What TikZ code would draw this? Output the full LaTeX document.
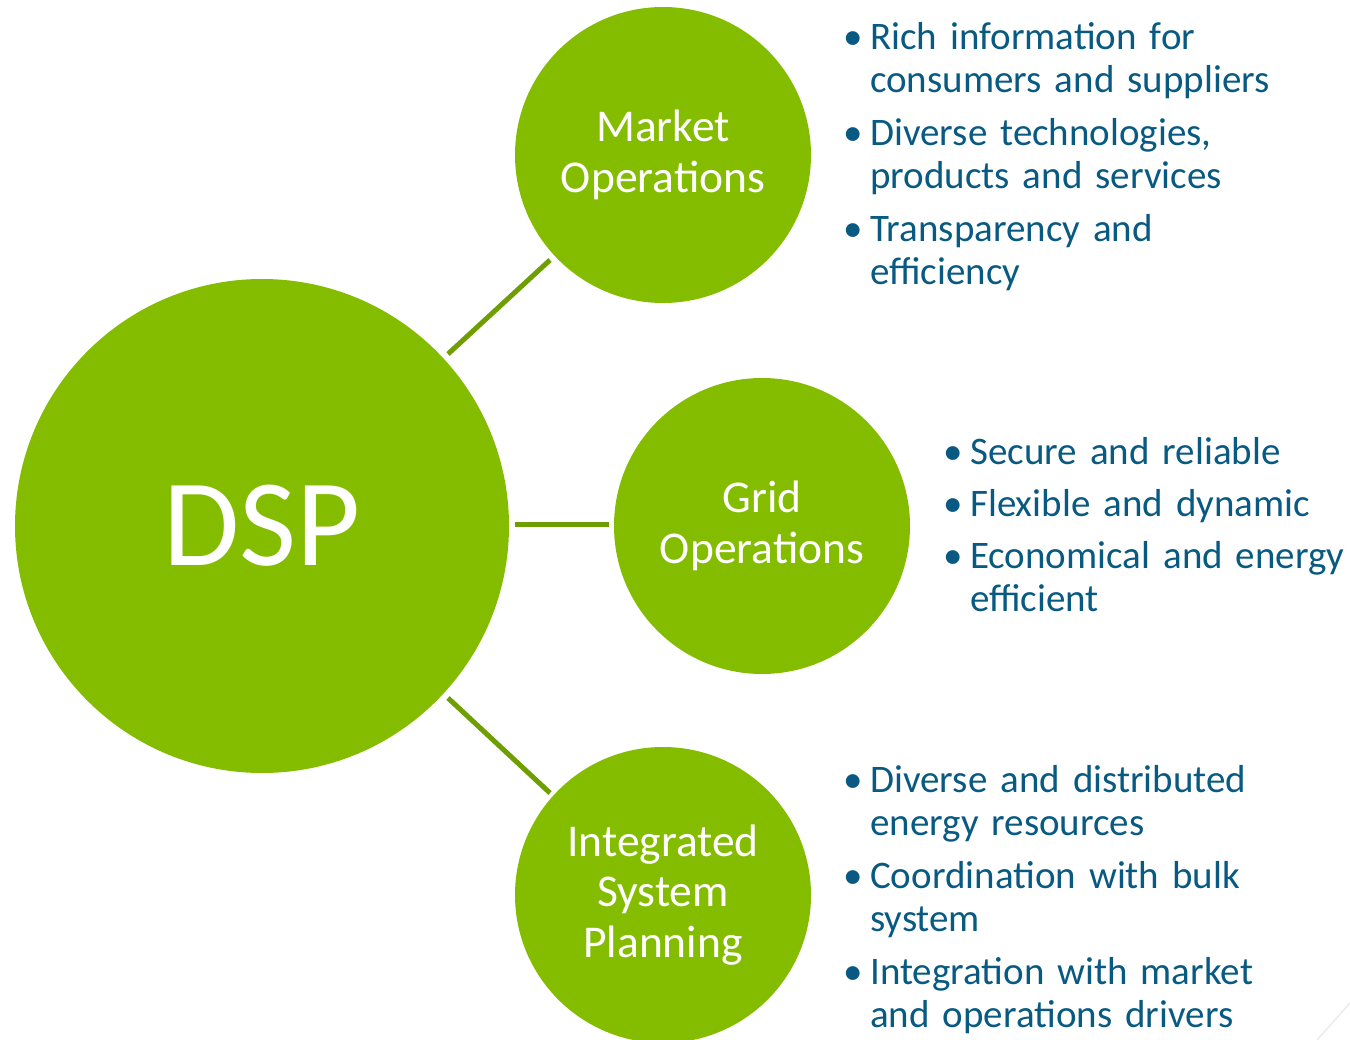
\documentclass[tikz,border=0pt]{standalone}
\usepackage{fontspec}
\setmainfont{Carlito}
\definecolor{dspgreen}{HTML}{84BD00}
\definecolor{linkgreen}{HTML}{6E9E00}
\definecolor{txtblue}{HTML}{085A82}
\newcommand{\itemfont}{\fontsize{39}{43}\selectfont\spaceskip=13pt plus 2pt\relax}
\begin{document}
\begin{tikzpicture}[x=1pt,y=-1pt,
  bigcircle/.style={circle,fill=dspgreen,draw=none,inner sep=0pt,minimum size=494pt,text=white,font=\fontsize{124}{130}\selectfont},
  subcircle/.style={circle,fill=dspgreen,draw=none,inner sep=0pt,minimum size=296pt,text=white,align=center,font=\fontsize{45.5}{50.5}\selectfont},
  link/.style={draw=linkgreen,line width=5pt},
  item/.style={anchor=base west,inner sep=0pt,align=left,text=txtblue,font=\itemfont},
  bul/.style={anchor=base,inner sep=0pt,text=txtblue,font=\fontsize{39}{43}\selectfont}
]
\useasboundingbox (0,0) rectangle (1350,1040);
\clip (0,0) rectangle (1350,1040);

\node[bigcircle] (dsp) at (262,526) {DSP};
\node[subcircle] (mo) at (663,155) {Market\\Operations};
\node[subcircle] (go) at (762,526) {Grid\\Operations};
\node[subcircle] (isp) at (663,895) {Integrated\\System\\Planning};

\coordinate (a1) at (448,354); \coordinate (a2) at (550,260);
\coordinate (b1) at (515,524); \coordinate (b2) at (609,524);
\coordinate (c1) at (448,698); \coordinate (c2) at (550,793);
\draw[link] (a1) -- (a2);
\draw[link] (b1) -- (b2);
\draw[link] (c1) -- (c2);

% Market bullets (node base = last line baseline)
\node[item] (m1) at (870,93) {Rich information for\\consumers and suppliers};
\node[item] (m2) at (870,189) {Diverse technologies,\\products and services};
\node[item] (m3) at (870,285) {Transparency and\\efficiency};
\node[bul] (mb1) at (853,50) {•};
\node[bul] (mb2) at (853,146) {•};
\node[bul] (mb3) at (853,242) {•};

% Grid bullets
\node[item] (g1) at (970,465) {Secure and reliable};
\node[item] (g2) at (970,516) {Flexible and dynamic};
\node[item] (g3) at (970,611) {Economical and energy\\efficient};
\node[bul] (gb1) at (953,465) {•};
\node[bul] (gb2) at (953,516) {•};
\node[bul] (gb3) at (953,568) {•};

% ISP bullets
\node[item] (i1) at (870,835) {Diverse and distributed\\energy resources};
\node[item] (i2) at (870,931) {Coordination with bulk\\system};
\node[item] (i3) at (870,1027) {Integration with market\\and operations drivers};
\node[bul] (ib1) at (853,792) {•};
\node[bul] (ib2) at (853,888) {•};
\node[bul] (ib3) at (853,984) {•};

\coordinate (d1) at (1317,1040); \coordinate (d2) at (1350,1003);
\draw[draw=black!8,line width=1.5pt] (d1) -- (d2);
\end{tikzpicture}
\end{document}
